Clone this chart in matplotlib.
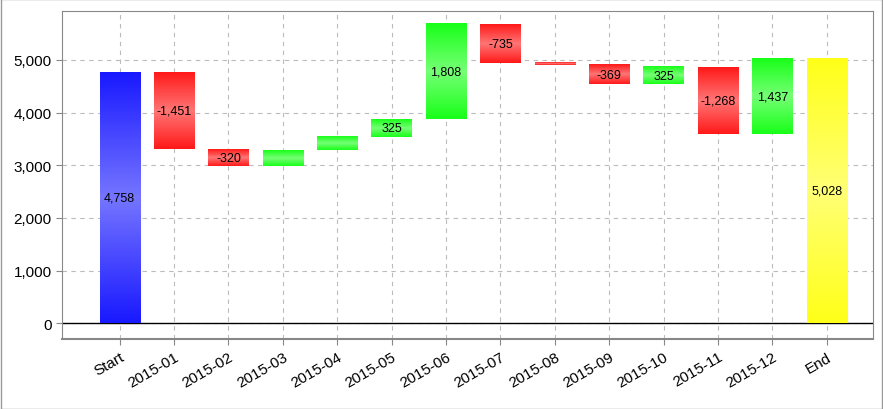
import numpy as np
import matplotlib.pyplot as plt
from matplotlib.colors import LinearSegmentedColormap

plt.rcParams["font.family"] = ["Liberation Sans", "DejaVu Sans"]

labels = ["Start", "2015-01", "2015-02", "2015-03", "2015-04", "2015-05", "2015-06",
          "2015-07", "2015-08", "2015-09", "2015-10", "2015-11", "2015-12", "End"]
start = 4758
changes = [-1451, -320, 303, 255, 325, 1808, -735, -40, -369, 325, -1268, 1437]
end = 5028

fig = plt.figure(figsize=(8.83, 4.10), dpi=100)
ax = fig.add_axes([62 / 883, 70 / 410, 811 / 883, 328 / 410])
fig.patches.append(plt.Rectangle((0.001, 0.001), 0.998, 0.998, transform=fig.transFigure,
                                 fill=False, edgecolor="#999999", lw=1))

def grad(base):
    # saturated at edges, lighter in the middle
    light = tuple(0.6 * c + 0.4 for c in base)
    return LinearSegmentedColormap.from_list("g", [base, light, base])

cm_blue = grad((0.1, 0.1, 1.0))
cm_red = grad((1.0, 0.1, 0.1))
cm_green = grad((0.1, 1.0, 0.1))
cm_yellow = grad((1.0, 1.0, 0.1))
col = np.linspace(0, 1, 100).reshape(-1, 1)

def bar(i, lo, hi, cmap, text):
    w = 0.74
    ax.imshow(col, cmap=cmap, aspect="auto", extent=(i - w / 2, i + w / 2, lo, hi),
              origin="lower", zorder=3)
    if text is not None:
        ax.text(i, (lo + hi) / 2, text, ha="center", va="center", fontsize=9, zorder=4)

bar(0, 0, start, cm_blue, f"{start:,}")
level = start
for k, c in enumerate(changes):
    lo, hi = sorted([level, level + c])
    t = f"{c:,}" if abs(c) >= 310 else None
    bar(k + 1, lo, hi, cm_green if c > 0 else cm_red, t)
    level += c
bar(len(labels) - 1, 0, end, cm_yellow, f"{end:,}")

ax.set_xlim(-1.06, len(labels) - 0.15)
ax.set_ylim(-300, 5930)
ax.axhline(0, color="black", lw=1, zorder=2)
ax.set_xticks(range(len(labels)))
ax.set_xticklabels(labels, rotation=30, ha="right", rotation_mode="anchor", fontsize=11)
ax.set_yticks(range(0, 6000, 1000))
ax.set_yticklabels([f"{v:,}" for v in range(0, 6000, 1000)], fontsize=11)
ax.grid(True, ls=(0, (4, 4)), color="#bbbbbb", lw=0.8, zorder=0)
for s in ax.spines.values():
    s.set_color("#888888")
ax.spines["bottom"].set_linewidth(1.5)
ax.tick_params(color="#888888", length=4)

fig.savefig("out.png", dpi=100)
